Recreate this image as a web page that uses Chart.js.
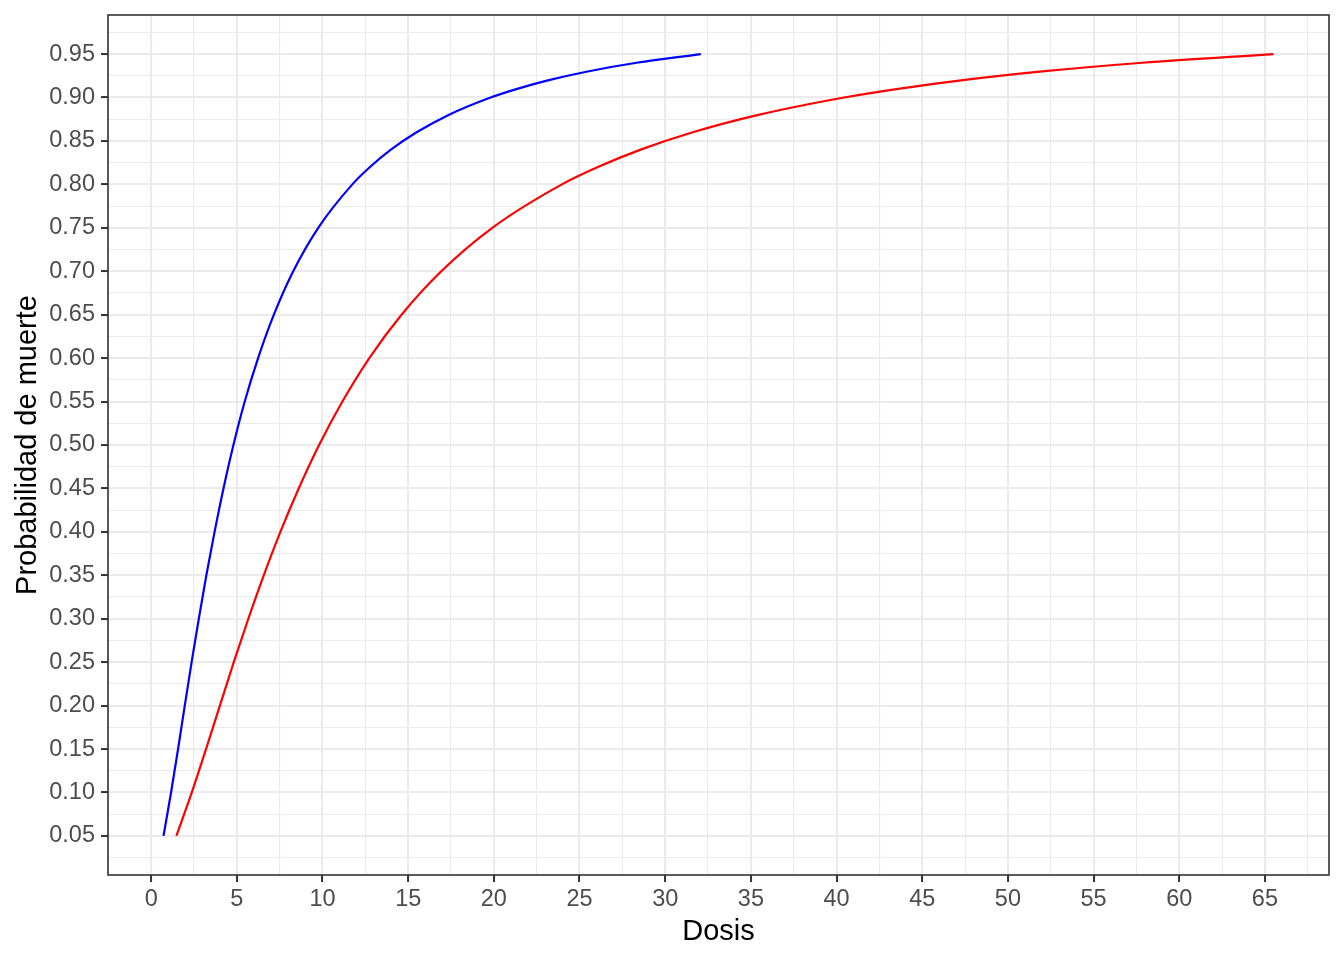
<!DOCTYPE html>
<html>
<head>
<meta charset="utf-8">
<script src="https://cdn.jsdelivr.net/npm/chart.js@4/dist/chart.umd.min.js"></script>
<style>
  html, body { margin: 0; padding: 0; background: #fff; }
  #chart { display: block; }
</style>
</head>
<body>
<canvas id="chart" width="1344" height="960"></canvas>
<script>
'use strict';

// --- Data ---
const probLevels = [0.05, 0.10, 0.15, 0.20, 0.25, 0.30, 0.35, 0.40, 0.45, 0.50, 0.55, 0.60, 0.65, 0.70, 0.75, 0.80, 0.82, 0.84, 0.86, 0.88, 0.90, 0.91, 0.92, 0.93, 0.94, 0.95];
const doseBlue = [0.72, 1.16, 1.57, 1.96, 2.36, 2.78, 3.22, 3.70, 4.22, 4.80, 5.46, 6.24, 7.16, 8.29, 9.75, 11.74, 12.77, 13.99, 15.49, 17.36, 19.81, 21.36, 23.21, 25.47, 28.33, 32.08];
const doseRed = [1.47, 2.37, 3.20, 4.01, 4.82, 5.67, 6.57, 7.54, 8.61, 9.80, 11.16, 12.73, 14.61, 16.93, 19.91, 23.97, 26.07, 28.57, 31.61, 35.44, 40.44, 43.60, 47.38, 52.01, 57.84, 65.50];

// --- Axis ticks ---
const xTicks = [0, 5, 10, 15, 20, 25, 30, 35, 40, 45, 50, 55, 60, 65];
const yTicks = [0.05, 0.10, 0.15, 0.20, 0.25, 0.30, 0.35, 0.40, 0.45, 0.50, 0.55, 0.60, 0.65, 0.70, 0.75, 0.80, 0.85, 0.90, 0.95];

const GRID = '#EBEBEB';
const INK = '#333333';
const TICK_TEXT = '#4D4D4D';
const FONT = "'Liberation Sans', Arial, sans-serif";

// major ticks plus ggplot-style minor breaks halfway between them
function withMinor(major, lo, hi) {
  const out = [];
  const step = major[1] - major[0];
  const first = major[0] - step / 2;
  if (first > lo) out.push({ value: first, minor: true });
  major.forEach(v => {
    out.push({ value: v, minor: false });
    const mid = v + step / 2;
    if (mid < hi) out.push({ value: mid, minor: true });
  });
  return out;
}

const xMin = -2.52, xMax = 68.74;
const yMin = 0.005, yMax = 0.995;

const panelBorder = {
  id: 'panelBorder',
  afterDatasetsDraw(chart) {
    const a = chart.chartArea;
    const ctx = chart.ctx;
    ctx.save();
    ctx.strokeStyle = INK;
    ctx.lineWidth = 1.6;
    ctx.strokeRect(a.left, a.top, a.right - a.left, a.bottom - a.top);
    ctx.restore();
  }
};

const ctx = document.getElementById('chart').getContext('2d');
new Chart(ctx, {
  type: 'line',
  data: {
    datasets: [
      {
        label: 'azul',
        data: doseBlue.map((d, i) => ({ x: d, y: probLevels[i] })),
        borderColor: '#0000FF',
        borderWidth: 2.2,
        pointRadius: 0,
        cubicInterpolationMode: 'monotone',
        fill: false
      },
      {
        label: 'rojo',
        data: doseRed.map((d, i) => ({ x: d, y: probLevels[i] })),
        borderColor: '#FF0000',
        borderWidth: 2.2,
        pointRadius: 0,
        cubicInterpolationMode: 'monotone',
        fill: false
      }
    ]
  },
  options: {
    responsive: false,
    animation: false,
    layout: { padding: { left: 0, top: 15, right: 15, bottom: 0 } },
    plugins: { legend: { display: false }, tooltip: { enabled: false } },
    scales: {
      x: {
        type: 'linear',
        min: xMin,
        max: xMax,
        afterBuildTicks: s => { s.ticks = withMinor(xTicks, xMin, xMax); },
        afterFit: s => { s.height = 85; s.paddingLeft = 0; s.paddingRight = 0; },
        border: { display: false },
        grid: {
          color: c => GRID,
          lineWidth: c => (c.tick && c.tick.minor ? 1.1 : 2.1),
          tickColor: c => (c.tick && c.tick.minor ? 'rgba(0,0,0,0)' : INK),
          tickWidth: 2,
          tickLength: 7
        },
        ticks: {
          autoSkip: false,
          maxRotation: 0,
          padding: 3,
          color: TICK_TEXT,
          font: { family: FONT, size: 23.5 },
          callback: function (v, i, ticks) { return ticks[i].minor ? '' : String(v); }
        },
        title: {
          display: true,
          text: 'Dosis',
          color: '#000',
          font: { family: FONT, size: 29 },
          padding: { top: 0, bottom: 11 }
        }
      },
      y: {
        type: 'linear',
        min: yMin,
        max: yMax,
        afterBuildTicks: s => { s.ticks = withMinor(yTicks, yMin, yMax); },
        afterFit: s => { s.width = 108; s.paddingTop = 0; s.paddingBottom = 0; },
        border: { display: false },
        grid: {
          color: c => GRID,
          lineWidth: c => (c.tick && c.tick.minor ? 1.1 : 2.1),
          tickColor: c => (c.tick && c.tick.minor ? 'rgba(0,0,0,0)' : INK),
          tickWidth: 2,
          tickLength: 7
        },
        ticks: {
          autoSkip: false,
          padding: 6,
          color: TICK_TEXT,
          font: { family: FONT, size: 23.5 },
          callback: function (v, i, ticks) { return ticks[i].minor ? '' : Number(v).toFixed(2); }
        },
        title: {
          display: true,
          text: 'Probabilidad de muerte',
          color: '#000',
          font: { family: FONT, size: 29 },
          padding: { top: 11, bottom: 0 }
        }
      }
    }
  },
  plugins: [panelBorder]
});
</script>
</body>
</html>
